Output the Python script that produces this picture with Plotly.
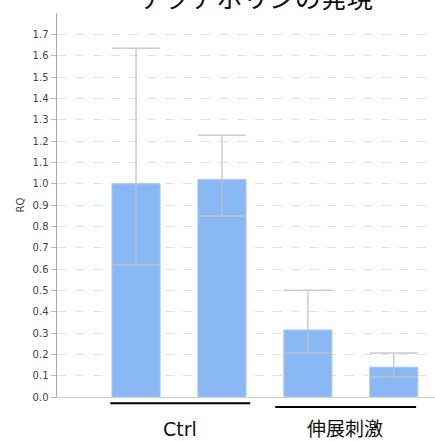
import plotly.graph_objects as go

categories = ["Ctrl-1", "Ctrl-2", "伸展刺激-1", "伸展刺激-2"]
rq_values = [1.00, 1.02, 0.314, 0.14]
err_plus = [0.635, 0.207, 0.186, 0.066]
err_minus = [0.38, 0.172, 0.108, 0.046]
y_ticks = [round(i * 0.1, 1) for i in range(18)]
group_labels = ["Ctrl", "伸展刺激"]
title_text = "アクアポリンの発現"

x_pos = list(range(len(categories)))

fig = go.Figure()
fig.add_trace(go.Bar(
    x=x_pos, y=rq_values, width=0.56,
    marker=dict(color="rgb(138,184,245)", line=dict(color="rgb(170,200,240)", width=1)),
    error_y=dict(type="data", symmetric=False, array=err_plus, arrayminus=err_minus,
                 color="rgba(195,195,195,0.85)", thickness=1.5, width=24),
    hoverinfo="skip",
))

fig.update_layout(
    width=435, height=441,
    margin=dict(l=57, r=0, t=13, b=44),
    plot_bgcolor="white", paper_bgcolor="white",
    showlegend=False,
    font=dict(family="DejaVu Sans", color="#444"),
)
fig.update_xaxes(range=[-0.92, 3.48], showticklabels=False, showgrid=False,
                 zeroline=False, showline=True, linecolor="#cfcfcf", linewidth=1)
fig.update_yaxes(range=[0, 1.8], tickvals=y_ticks, ticktext=[f"{v:.1f}" for v in y_ticks],
                 tickfont=dict(size=10, color="#444", family="DejaVu Sans"),
                 ticks="outside", ticklen=5,
                 tickcolor="#bbb", showline=True, linecolor="#aaa", linewidth=1.5,
                 showgrid=True, gridcolor="#e2e2e2", griddash="dash", gridwidth=1,
                 zeroline=False,
                 title=dict(text="RQ", font=dict(size=10, color="#444", family="DejaVu Sans"),
                            standoff=6))

# group underlines and labels
groups = [(-0.30, 1.33, -0.016, 0.51), (1.62, 3.26, -0.026, 2.43)]
for (x0, x1, yy, xc), lab in zip(groups, group_labels):
    fig.add_shape(type="line", xref="x", yref="paper", x0=x0, x1=x1, y0=yy, y1=yy,
                  line=dict(color="black", width=2))
    fig.add_annotation(text=lab, xref="x", yref="paper", x=xc, y=-0.084,
                       showarrow=False, yanchor="middle",
                       font=dict(size=19, color="#111",
                                 family="DejaVu Sans, Noto Sans CJK JP"))

fig.add_annotation(text=title_text, xref="x", yref="paper", x=1.4, y=1 + 16 / 384,
                   yanchor="middle", showarrow=False,
                   font=dict(size=26, color="#111", family="Noto Sans CJK JP"))

fig.write_html("out.html", config={"displayModeBar": False, "staticPlot": True},
               post_script="document.body.style.margin='0';")
